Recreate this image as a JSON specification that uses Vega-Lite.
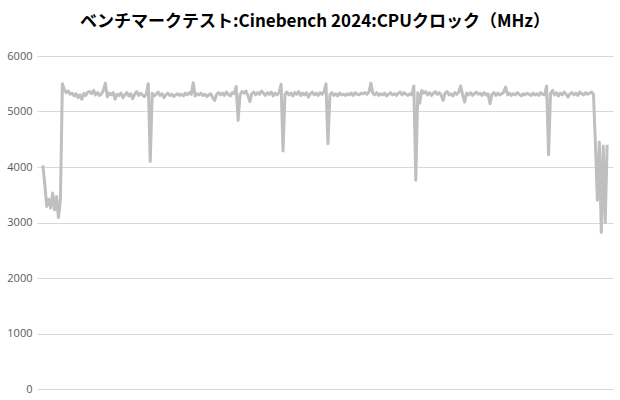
{
  "$schema": "https://vega.github.io/schema/vega-lite/v6.json",
  "width": 576,
  "height": 333,
  "autosize": {"type": "none"},
  "padding": {"left": 37, "top": 56, "right": 7, "bottom": 11},
  "background": "#ffffff",
  "title": {
    "text": "ベンチマークテスト:Cinebench 2024:CPUクロック（MHz）",
    "font": "Noto Sans CJK JP",
    "fontSize": 17,
    "fontWeight": "bold",
    "color": "#000000",
    "anchor": "middle",
    "dx": -10,
    "offset": 19
  },
  "config": {"view": {"stroke": null}},
  "data": {
    "values": [
      {"i":0,"v":4030},{"i":1,"v":3680},{"i":2,"v":3290},{"i":3,"v":3420},{"i":4,"v":3260},{"i":5,"v":3530},{"i":6,"v":3230},{"i":7,"v":3470},{"i":8,"v":3090},{"i":9,"v":3420},
      {"i":10,"v":5500},{"i":11,"v":5390},{"i":12,"v":5340},{"i":13,"v":5370},{"i":14,"v":5310},{"i":15,"v":5330},{"i":16,"v":5280},{"i":17,"v":5320},{"i":18,"v":5250},{"i":19,"v":5300},
      {"i":20,"v":5220},{"i":21,"v":5330},{"i":22,"v":5290},{"i":23,"v":5350},{"i":24,"v":5360},{"i":25,"v":5320},{"i":26,"v":5380},{"i":27,"v":5300},{"i":28,"v":5340},{"i":29,"v":5290},
      {"i":30,"v":5320},{"i":31,"v":5380},{"i":32,"v":5510},{"i":33,"v":5260},{"i":34,"v":5330},{"i":35,"v":5300},{"i":36,"v":5340},{"i":37,"v":5220},{"i":38,"v":5310},{"i":39,"v":5290},
      {"i":40,"v":5330},{"i":41,"v":5250},{"i":42,"v":5300},{"i":43,"v":5340},{"i":44,"v":5280},{"i":45,"v":5320},{"i":46,"v":5230},{"i":47,"v":5310},{"i":48,"v":5360},{"i":49,"v":5290},
      {"i":50,"v":5330},{"i":51,"v":5300},{"i":52,"v":5270},{"i":53,"v":5320},{"i":54,"v":5500},{"i":55,"v":4100},{"i":56,"v":5330},{"i":57,"v":5280},{"i":58,"v":5310},{"i":59,"v":5350},
      {"i":60,"v":5290},{"i":61,"v":5320},{"i":62,"v":5250},{"i":63,"v":5300},{"i":64,"v":5330},{"i":65,"v":5290},{"i":66,"v":5310},{"i":67,"v":5270},{"i":68,"v":5300},{"i":69,"v":5320},
      {"i":70,"v":5290},{"i":71,"v":5310},{"i":72,"v":5280},{"i":73,"v":5330},{"i":74,"v":5300},{"i":75,"v":5340},{"i":76,"v":5310},{"i":77,"v":5520},{"i":78,"v":5280},{"i":79,"v":5320},
      {"i":80,"v":5300},{"i":81,"v":5330},{"i":82,"v":5290},{"i":83,"v":5310},{"i":84,"v":5270},{"i":85,"v":5300},{"i":86,"v":5320},{"i":87,"v":5250},{"i":88,"v":5200},{"i":89,"v":5310},
      {"i":90,"v":5340},{"i":91,"v":5300},{"i":92,"v":5330},{"i":93,"v":5290},{"i":94,"v":5350},{"i":95,"v":5310},{"i":96,"v":5280},{"i":97,"v":5340},{"i":98,"v":5320},{"i":99,"v":5450},
      {"i":100,"v":4840},{"i":101,"v":5300},{"i":102,"v":5360},{"i":103,"v":5330},{"i":104,"v":5370},{"i":105,"v":5290},{"i":106,"v":5180},{"i":107,"v":5320},{"i":108,"v":5350},{"i":109,"v":5300},
      {"i":110,"v":5340},{"i":111,"v":5310},{"i":112,"v":5370},{"i":113,"v":5330},{"i":114,"v":5290},{"i":115,"v":5340},{"i":116,"v":5310},{"i":117,"v":5350},{"i":118,"v":5280},{"i":119,"v":5330},
      {"i":120,"v":5300},{"i":121,"v":5340},{"i":122,"v":5490},{"i":123,"v":4290},{"i":124,"v":5310},{"i":125,"v":5350},{"i":126,"v":5300},{"i":127,"v":5330},{"i":128,"v":5280},{"i":129,"v":5340},
      {"i":130,"v":5310},{"i":131,"v":5360},{"i":132,"v":5290},{"i":133,"v":5330},{"i":134,"v":5300},{"i":135,"v":5340},{"i":136,"v":5260},{"i":137,"v":5320},{"i":138,"v":5350},{"i":139,"v":5300},
      {"i":140,"v":5330},{"i":141,"v":5290},{"i":142,"v":5340},{"i":143,"v":5310},{"i":144,"v":5360},{"i":145,"v":5500},{"i":146,"v":4420},{"i":147,"v":5300},{"i":148,"v":5340},{"i":149,"v":5290},
      {"i":150,"v":5320},{"i":151,"v":5280},{"i":152,"v":5330},{"i":153,"v":5300},{"i":154,"v":5310},{"i":155,"v":5290},{"i":156,"v":5320},{"i":157,"v":5300},{"i":158,"v":5330},{"i":159,"v":5290},
      {"i":160,"v":5340},{"i":161,"v":5310},{"i":162,"v":5300},{"i":163,"v":5330},{"i":164,"v":5320},{"i":165,"v":5340},{"i":166,"v":5310},{"i":167,"v":5350},{"i":168,"v":5510},{"i":169,"v":5330},
      {"i":170,"v":5300},{"i":171,"v":5340},{"i":172,"v":5290},{"i":173,"v":5320},{"i":174,"v":5300},{"i":175,"v":5330},{"i":176,"v":5280},{"i":177,"v":5310},{"i":178,"v":5340},{"i":179,"v":5300},
      {"i":180,"v":5320},{"i":181,"v":5290},{"i":182,"v":5330},{"i":183,"v":5350},{"i":184,"v":5300},{"i":185,"v":5340},{"i":186,"v":5310},{"i":187,"v":5290},{"i":188,"v":5320},{"i":189,"v":5300},
      {"i":190,"v":5460},{"i":191,"v":3760},{"i":192,"v":5340},{"i":193,"v":5150},{"i":194,"v":5380},{"i":195,"v":5330},{"i":196,"v":5360},{"i":197,"v":5300},{"i":198,"v":5340},{"i":199,"v":5290},
      {"i":200,"v":5330},{"i":201,"v":5360},{"i":202,"v":5310},{"i":203,"v":5340},{"i":204,"v":5290},{"i":205,"v":5200},{"i":206,"v":5330},{"i":207,"v":5360},{"i":208,"v":5300},{"i":209,"v":5320},
      {"i":210,"v":5280},{"i":211,"v":5340},{"i":212,"v":5310},{"i":213,"v":5350},{"i":214,"v":5460},{"i":215,"v":5300},{"i":216,"v":5170},{"i":217,"v":5330},{"i":218,"v":5300},{"i":219,"v":5340},
      {"i":220,"v":5290},{"i":221,"v":5320},{"i":222,"v":5350},{"i":223,"v":5310},{"i":224,"v":5330},{"i":225,"v":5290},{"i":226,"v":5340},{"i":227,"v":5300},{"i":228,"v":5320},{"i":229,"v":5140},
      {"i":230,"v":5310},{"i":231,"v":5340},{"i":232,"v":5290},{"i":233,"v":5330},{"i":234,"v":5300},{"i":235,"v":5320},{"i":236,"v":5350},{"i":237,"v":5440},{"i":238,"v":5300},{"i":239,"v":5330},
      {"i":240,"v":5290},{"i":241,"v":5320},{"i":242,"v":5300},{"i":243,"v":5340},{"i":244,"v":5310},{"i":245,"v":5280},{"i":246,"v":5320},{"i":247,"v":5300},{"i":248,"v":5330},{"i":249,"v":5310},
      {"i":250,"v":5290},{"i":251,"v":5330},{"i":252,"v":5300},{"i":253,"v":5320},{"i":254,"v":5290},{"i":255,"v":5340},{"i":256,"v":5310},{"i":257,"v":5300},{"i":258,"v":5460},{"i":259,"v":4220},
      {"i":260,"v":5320},{"i":261,"v":5380},{"i":262,"v":5300},{"i":263,"v":5340},{"i":264,"v":5280},{"i":265,"v":5330},{"i":266,"v":5300},{"i":267,"v":5350},{"i":268,"v":5310},{"i":269,"v":5260},
      {"i":270,"v":5320},{"i":271,"v":5340},{"i":272,"v":5300},{"i":273,"v":5330},{"i":274,"v":5290},{"i":275,"v":5350},{"i":276,"v":5320},{"i":277,"v":5300},{"i":278,"v":5340},{"i":279,"v":5310},
      {"i":280,"v":5330},{"i":281,"v":5350},{"i":282,"v":5310},{"i":283,"v":4400},{"i":284,"v":3400},{"i":285,"v":4450},{"i":286,"v":2820},{"i":287,"v":4380},{"i":288,"v":3000},{"i":289,"v":4400}
    ]
  },
  "mark": {"type": "line", "color": "#bfbfbf", "strokeWidth": 3, "strokeJoin": "round"},
  "encoding": {
    "x": {
      "field": "i",
      "type": "quantitative",
      "scale": {"domain": [-3, 292], "nice": false, "zero": false},
      "axis": null
    },
    "y": {
      "field": "v",
      "type": "quantitative",
      "scale": {"domain": [0, 6000], "nice": false},
      "axis": {
        "title": null,
        "values": [0, 1000, 2000, 3000, 4000, 5000, 6000],
        "format": "d",
        "domain": false,
        "ticks": false,
        "grid": true,
        "gridColor": "#d9d9d9",
        "gridWidth": 1,
        "labelColor": "#595959",
        "labelFont": "Open Sans",
        "labelFontSize": 11,
        "labelPadding": 5
      }
    }
  }
}
